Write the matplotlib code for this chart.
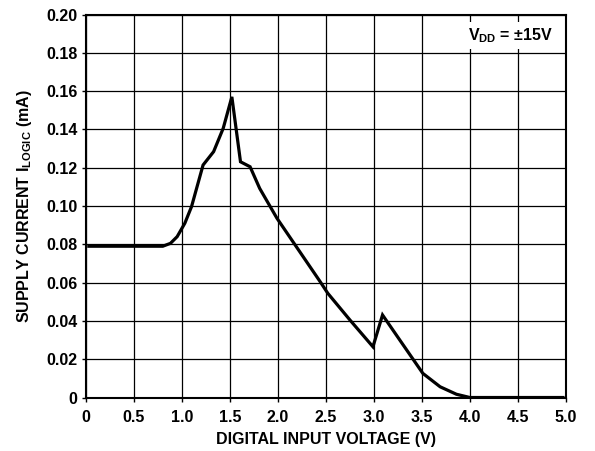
import numpy as np
import matplotlib
matplotlib.use("Agg")
import matplotlib.pyplot as plt

plt.rcParams['font.family'] = ['Liberation Sans', 'DejaVu Sans']
plt.rcParams['font.weight'] = 'bold'
plt.rcParams['mathtext.fontset'] = 'custom'
plt.rcParams['mathtext.rm'] = 'Liberation Sans:bold'
plt.rcParams['mathtext.it'] = 'Liberation Sans:bold'
plt.rcParams['mathtext.bf'] = 'Liberation Sans:bold'

# curve
volts = [0.03, 0.80, 0.88, 0.95, 1.03, 1.10, 1.22, 1.33, 1.43, 1.52, 1.61, 1.71,
         1.81, 1.99, 2.44, 2.52, 2.75, 2.99, 3.09, 3.27, 3.51, 3.69, 3.86, 4.0, 4.97]
current = [0.079, 0.079, 0.0805, 0.084, 0.091, 0.0997, 0.1214, 0.1284, 0.1406, 0.157,
           0.1231, 0.1205, 0.1092, 0.0936, 0.0605, 0.0544, 0.0405, 0.0265, 0.0431,
           0.030, 0.0126, 0.0056, 0.0017, 0.0, 0.0]

xticks = [0, 0.5, 1.0, 1.5, 2.0, 2.5, 3.0, 3.5, 4.0, 4.5, 5.0]
xlabels = ['0', '0.5', '1.0', '1.5', '2.0', '2.5', '3.0', '3.5', '4.0', '4.5', '5.0']
yticks = [0, 0.02, 0.04, 0.06, 0.08, 0.10, 0.12, 0.14, 0.16, 0.18, 0.20]
ylabels = ['0', '0.02', '0.04', '0.06', '0.08', '0.10', '0.12', '0.14', '0.16', '0.18', '0.20']

fig = plt.figure(figsize=(5.95, 4.51), dpi=100)
ax = fig.add_axes([0.1445, 0.1186, 0.8065, 0.8492])

ax.plot(volts, current, color='black', lw=2.3, solid_joinstyle='miter', zorder=3)

ax.set_xlim(0, 5)
ax.set_ylim(0, 0.20)
ax.set_xticks(xticks)
ax.set_xticklabels(xlabels)
ax.set_yticks(yticks)
ax.set_yticklabels(ylabels)
ax.grid(True, color='black', lw=0.9)
ax.tick_params(direction='out', length=3, width=1, labelsize=11.5)
ax.tick_params(axis='x', pad=6)
ax.tick_params(axis='y', pad=3)
for s in ax.spines.values():
    s.set_linewidth(1.5)

ax.set_xlabel('DIGITAL INPUT VOLTAGE (V)', fontsize=11.5, fontweight='bold', labelpad=5)
ax.set_ylabel(r'SUPPLY CURRENT I$_{\mathrm{LOGIC}}$ (mA)', fontsize=11.5,
              fontweight='bold', labelpad=9)

ax.text(4.86, 0.189, r'V$_{\mathrm{DD}}$ = ±15V', fontsize=11.5, fontweight='bold',
        ha='right', va='center', zorder=4,
        bbox=dict(facecolor='white', edgecolor='none', pad=3))

fig.savefig('out.png', dpi=100)
